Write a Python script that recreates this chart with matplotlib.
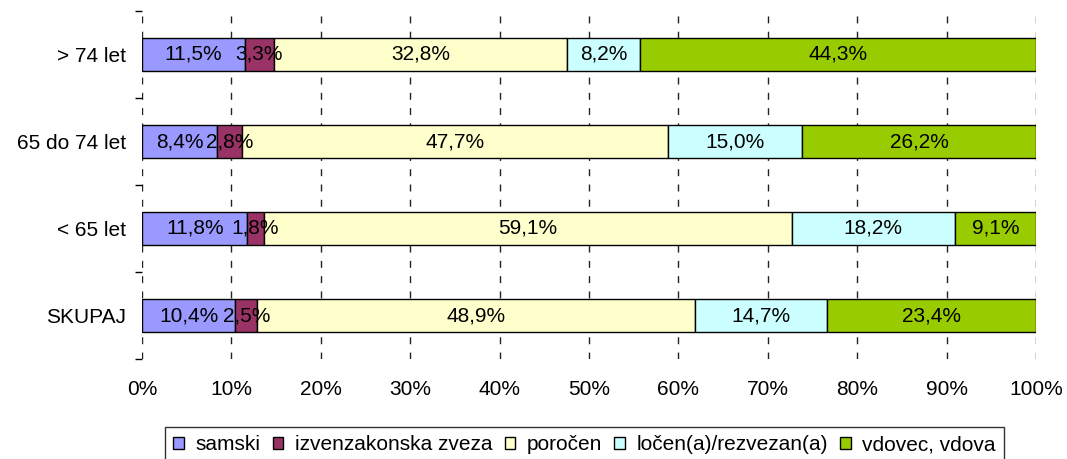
import numpy as np
import matplotlib.pyplot as plt
from matplotlib.patches import Patch

plt.rcParams['font.family'] = ['Liberation Sans', 'DejaVu Sans']

categories = ['> 74 let', '65 do 74 let', '< 65 let', 'SKUPAJ']
series = ['samski', 'izvenzakonska zveza', 'poročen', 'ločen(a)/rezvezan(a)', 'vdovec, vdova']
colors = ['#9999FF', '#993366', '#FFFFCC', '#CCFFFF', '#99CC00']

samski = [11.5, 8.4, 11.8, 10.4]
izvenzakonska = [3.3, 2.8, 1.8, 2.5]
porocen = [32.8, 47.7, 59.1, 48.9]
locen = [8.2, 15.0, 18.2, 14.7]
vdovec = [44.3, 26.2, 9.1, 23.4]

values = np.array([samski, izvenzakonska, porocen, locen, vdovec])
# 100% stacked, like the spreadsheet does it
shares = values / values.sum(axis=0) * 100

FS = 15

fig = plt.figure(figsize=(10.67, 4.59), dpi=100)
ax = fig.add_axes([142 / 1067, 1 - 359 / 459, (1036 - 142) / 1067, (359 - 11) / 459])

y = np.arange(len(categories))
left = np.zeros(len(categories))
for i, name in enumerate(series):
    ax.barh(y, shares[i], left=left, height=0.39, color=colors[i],
            edgecolor='black', linewidth=1, zorder=3)
    for j in range(len(categories)):
        txt = f'{values[i, j]:.1f}%'.replace('.', ',')
        ax.text(left[j] + shares[i, j] / 2, y[j], txt, ha='center', va='center',
                fontsize=FS, zorder=4)
    left += shares[i]

ax.set_xlim(0, 100)
ax.set_ylim(len(categories) - 0.5, -0.5)
ax.set_xticks(np.arange(0, 101, 10))
ax.set_xticklabels([f'{v}%' for v in range(0, 101, 10)], fontsize=FS)
ax.set_yticks(y)
ax.set_yticklabels(categories, fontsize=FS)
ax.set_yticks(np.arange(-0.5, len(categories), 1), minor=True)
ax.tick_params(axis='x', length=0, pad=15)
ax.tick_params(axis='y', which='major', length=0, pad=11.5)
ax.tick_params(axis='y', which='minor', length=5, width=1, color='black')

for s in ax.spines.values():
    s.set_visible(False)
ax.xaxis.grid(True, color='#222222', linestyle=(0, (5, 6)), linewidth=1, zorder=0)
ax.set_axisbelow(True)

handles = [Patch(facecolor=c, edgecolor='black', linewidth=1) for c in colors]
leg = fig.legend(handles, series, loc='upper left', bbox_to_anchor=(165 / 1067, 1 - 427 / 459),
                 ncol=5, fontsize=FS, frameon=True, fancybox=False, edgecolor='black',
                 handlelength=0.5, handleheight=0.5, handletextpad=0.55,
                 columnspacing=0.6, borderpad=0.4, borderaxespad=0)
leg.get_frame().set_linewidth(1)

fig.savefig('out.png', dpi=100)
